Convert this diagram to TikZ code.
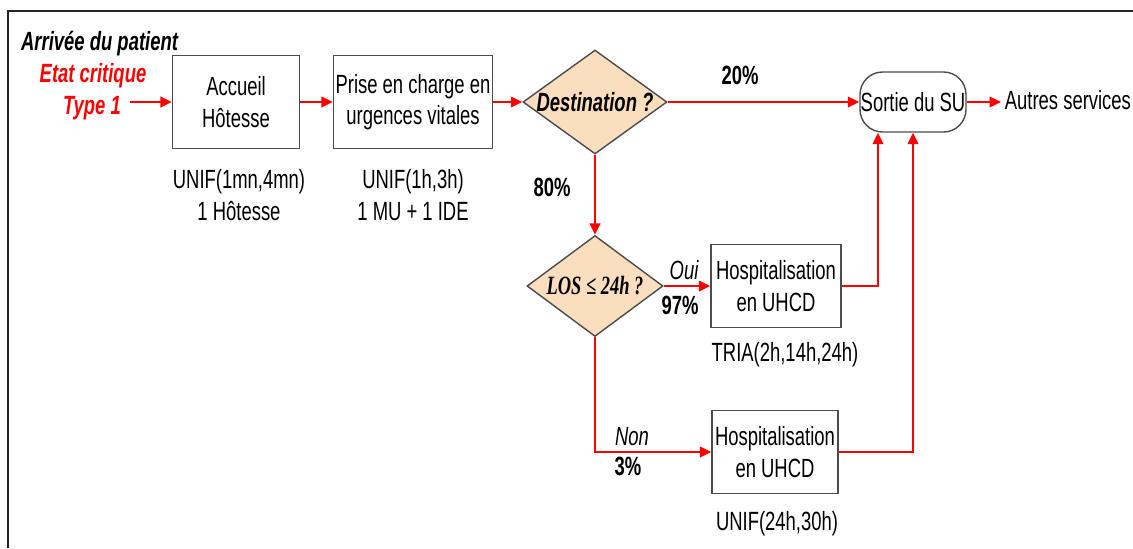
\documentclass[tikz,border=0pt]{standalone}
\usepackage{fontspec}
\setmainfont{Liberation Sans}[FakeStretch=0.7]
\newfontfamily\losfont{Liberation Serif}[FakeStretch=0.7]
\usetikzlibrary{shapes.geometric, arrows.meta}
\definecolor{peach}{RGB}{251,222,190}
\definecolor{flowred}{RGB}{255,0,0}

\begin{document}
\fontsize{15pt}{18pt}\selectfont
\begin{tikzpicture}[x=0.02cm, y=-0.02cm,
            stepbox/.style={rectangle, draw=black!70, line width=0.8pt, align=center, inner xsep=0pt},
            choice/.style={diamond, draw=black!70, line width=0.8pt, fill=peach, inner sep=0pt},
            flow/.style={draw=flowred, line width=1.1pt, -{Triangle[length=6.5pt, width=6pt]}},
            info/.style={align=center},
            pct/.style={font=\bfseries}
        ]
            \useasboundingbox (0,0) rectangle (1133,548);
            \draw[line width=1.4pt, black!85] (8,548) -- (8,11) -- (1133,11);

            \node[font=\bfseries\itshape, anchor=west] (arrivee) at (12,44) {Arrivée du patient};
            \node[font=\bfseries\itshape, text=flowred] (etat) at (93,76) {Etat critique};
            \node[font=\bfseries\itshape, text=flowred] (type) at (92,108) {Type 1};

            \node[stepbox, minimum width=2.54cm, minimum height=1.86cm] (accueil) at (236,102) {Accueil\\Hôtesse};
            \node[info] (accueilres) at (239,195) {UNIF(1mn,4mn)\\1 Hôtesse};
            \node[stepbox, minimum width=3.18cm, minimum height=1.86cm] (prise) at (413,102) {Prise en charge en\\urgences vitales};
            \node[info] (priseres) at (413,195) {UNIF(1h,3h)\\1 MU + 1 IDE};

            \node[choice, minimum width=2.88cm, minimum height=2.08cm,
                  label={[font=\bfseries\itshape]center:Destination ?}] (dest) at (595,102) {};
            \node[choice, minimum width=2.72cm, minimum height=2.02cm,
                  label={[font=\losfont\bfseries\itshape]center:LOS ≤ 24h ?}] (los) at (595,286) {};

            \node[stepbox, minimum width=2.6cm, minimum height=1.66cm] (hospa) at (776,286) {Hospitalisation\\en UHCD};
            \node[info] (hospares) at (785,355) {TRIA(2h,14h,24h)};
            \node[stepbox, minimum width=2.52cm, minimum height=1.66cm] (hospb) at (775,452) {Hospitalisation\\en UHCD};
            \node[info] (hospbres) at (777,524) {UNIF(24h,30h)};

            \node[rectangle, draw=black!70, line width=0.8pt, rounded corners=0.45cm, minimum width=2.12cm,
                  minimum height=1.2cm, inner xsep=0pt] (sortie) at (913,102) {Sortie du SU};
            \node[anchor=west, inner xsep=2pt] (autres) at (1001,100) {Autres services};

            \node[pct] (vingt) at (740,75) {20\%};
            \node[pct] (quatrevingt) at (552,187) {80\%};
            \node[font=\itshape] (oui) at (684,270) {Oui};
            \node[pct] (ouipct) at (680,305) {97\%};
            \node[font=\itshape] (non) at (632,437) {Non};
            \node[pct] (nonpct) at (628,466) {3\%};

            \draw[flow] (type.east |- accueil.west) -- (accueil.west);
            \draw[flow] (accueil) -- (prise);
            \draw[flow] (prise) -- (dest);
            \draw[flow] (dest) -- (sortie);
            \draw[flow] (sortie.east) -- (sortie.east -| autres.west);
            \draw[flow] (dest) -- (los);
            \draw[flow] (los) -- (hospa);
            \draw[flow] (los.south) |- (hospb.west);
            \draw[flow] (hospa.east) -| ([xshift=-0.7cm]sortie.south);
            \draw[flow] (hospb.east) -| (sortie.south);
        \end{tikzpicture}
\end{document}
